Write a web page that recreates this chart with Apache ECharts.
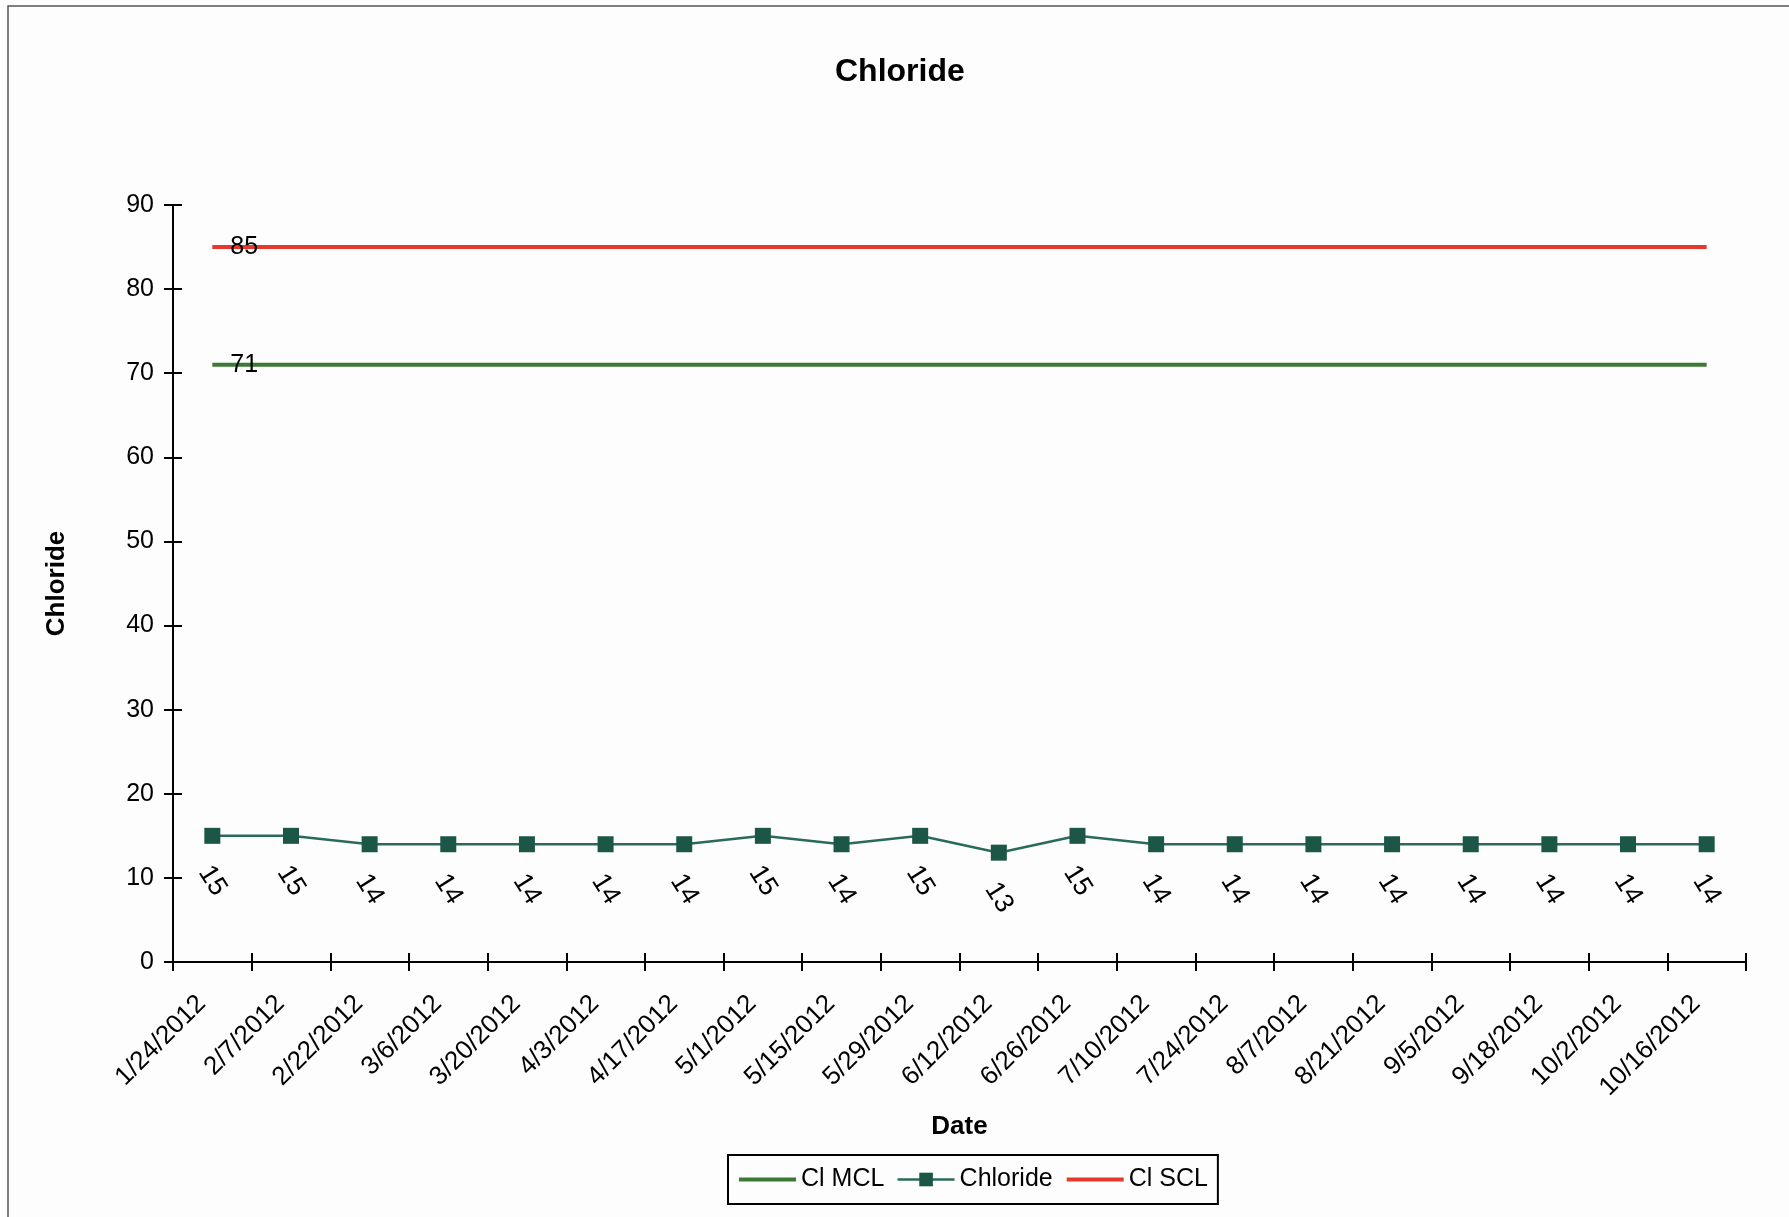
<!DOCTYPE html>
<html>
<head>
<meta charset="utf-8">
<script src="https://cdn.jsdelivr.net/npm/echarts@6/dist/echarts.min.js"></script>
<style>
html,body{margin:0;padding:0;background:#fdfdfd;}
#chart{width:1789px;height:1217px;}
</style>
</head>
<body>
<div id="chart"></div>
<script>
const categories = ['1/24/2012','2/7/2012','2/22/2012','3/6/2012','3/20/2012','4/3/2012','4/17/2012','5/1/2012','5/15/2012','5/29/2012','6/12/2012','6/26/2012','7/10/2012','7/24/2012','8/7/2012','8/21/2012','9/5/2012','9/18/2012','10/2/2012','10/16/2012'];
const chlorideValues = [15,15,14,14,14,14,14,15,14,15,13,15,14,14,14,14,14,14,14,14];
const mclValues = [71,71,71,71,71,71,71,71,71,71,71,71,71,71,71,71,71,71,71,71];
const sclValues = [85,85,85,85,85,85,85,85,85,85,85,85,85,85,85,85,85,85,85,85];
const yTicks = {min: 0, max: 90, interval: 10};

const FONT = '"Liberation Sans", Arial, sans-serif';
const MCL_COLOR = '#3b7a35';
const SCL_COLOR = '#e5392e';
const CL_COLOR = '#1c5646';

function refData(vals) {
  return vals.map((v, i) => i === 0
    ? {value: v, symbol: 'circle', symbolSize: 0, label: {show: true}}
    : v);
}

const chart = echarts.init(document.getElementById('chart'), null, {renderer: 'canvas'});
chart.setOption({
  backgroundColor: '#fdfdfd',
  animation: false,
  textStyle: {fontFamily: FONT, color: '#000'},
  graphic: [{
    type: 'rect', shape: {x: 8, y: 6, width: 1800, height: 1300},
    style: {fill: 'none', stroke: '#555', lineWidth: 1.5}, silent: true, z: -10
  }],
  title: {
    text: 'Chloride', left: 835, top: 56, padding: 0,
    textStyle: {fontFamily: FONT, fontSize: 32, fontWeight: 'bold', color: '#000'}
  },
  legend: {
    left: 728, top: 1155, orient: 'horizontal',
    padding: [12, 10, 12, 9], itemGap: 12, itemWidth: 57, itemHeight: 17,
    borderColor: '#000', borderWidth: 2,
    textStyle: {fontFamily: FONT, fontSize: 25, color: '#000'},
    data: [
      {name: 'Cl MCL', itemStyle: {opacity: 0}, lineStyle: {width: 4, color: MCL_COLOR}},
      {name: 'Chloride', lineStyle: {width: 2.5}},
      {name: 'Cl SCL', itemStyle: {opacity: 0}, lineStyle: {width: 4, color: SCL_COLOR}}
    ]
  },
  grid: {left: 173, right: 43, top: 205, bottom: 255, containLabel: false},
  xAxis: [{
    type: 'category', data: categories, boundaryGap: true, position: 'bottom',
    name: 'Date', nameLocation: 'middle', nameGap: 152,
    nameTextStyle: {fontFamily: FONT, fontSize: 26, fontWeight: 'bold', color: '#000', verticalAlign: 'top'},
    axisLine: {lineStyle: {color: '#000', width: 2}},
    axisTick: {show: true, length: 9, alignWithLabel: false, lineStyle: {color: '#000', width: 2}},
    axisLabel: {rotate: 45, margin: 27, interval: 0, padding: [0, 15, 0, 0], fontFamily: FONT, fontSize: 26, color: '#000'}
  }, {
    type: 'category', data: categories, boundaryGap: true, position: 'bottom',
    axisLine: {show: false},
    axisTick: {show: true, inside: true, length: 9, lineStyle: {color: '#000', width: 2}},
    axisLabel: {show: false}
  }],
  yAxis: [{
    type: 'value', min: yTicks.min, max: yTicks.max, interval: yTicks.interval, position: 'left',
    name: 'Chloride', nameLocation: 'middle', nameGap: 103, nameRotate: 90,
    nameTextStyle: {fontFamily: FONT, fontSize: 26, fontWeight: 'bold', color: '#000'},
    axisLine: {show: true, lineStyle: {color: '#000', width: 2}},
    axisTick: {show: true, length: 9, lineStyle: {color: '#000', width: 2}},
    axisLabel: {margin: 19, fontFamily: FONT, fontSize: 25, color: '#000'},
    splitLine: {show: false}
  }, {
    type: 'value', min: yTicks.min, max: yTicks.max, interval: yTicks.interval, position: 'left',
    axisLine: {show: false},
    axisTick: {show: true, inside: true, length: 9, lineStyle: {color: '#000', width: 2}},
    axisLabel: {show: false},
    splitLine: {show: false}
  }],
  series: [{
    name: 'Cl MCL', type: 'line', data: refData(mclValues), symbol: 'none',
    lineStyle: {color: MCL_COLOR, width: 4}, itemStyle: {color: MCL_COLOR},
    label: {show: false, position: 'right', distance: 18, fontFamily: FONT, fontSize: 25, color: '#000'},
    z: 2
  }, {
    name: 'Chloride', type: 'line', data: chlorideValues, symbol: 'rect', symbolSize: 16,
    lineStyle: {color: '#2a6a5a', width: 2.5}, itemStyle: {color: CL_COLOR},
    label: {show: true, position: 'bottom', distance: 37, rotate: -58, align: 'center', verticalAlign: 'middle',
      fontFamily: FONT, fontSize: 27, color: '#000'},
    z: 3
  }, {
    name: 'Cl SCL', type: 'line', data: refData(sclValues), symbol: 'none',
    lineStyle: {color: SCL_COLOR, width: 4}, itemStyle: {color: SCL_COLOR},
    label: {show: false, position: 'right', distance: 18, fontFamily: FONT, fontSize: 25, color: '#000'},
    z: 2
  }]
});
</script>
</body>
</html>
